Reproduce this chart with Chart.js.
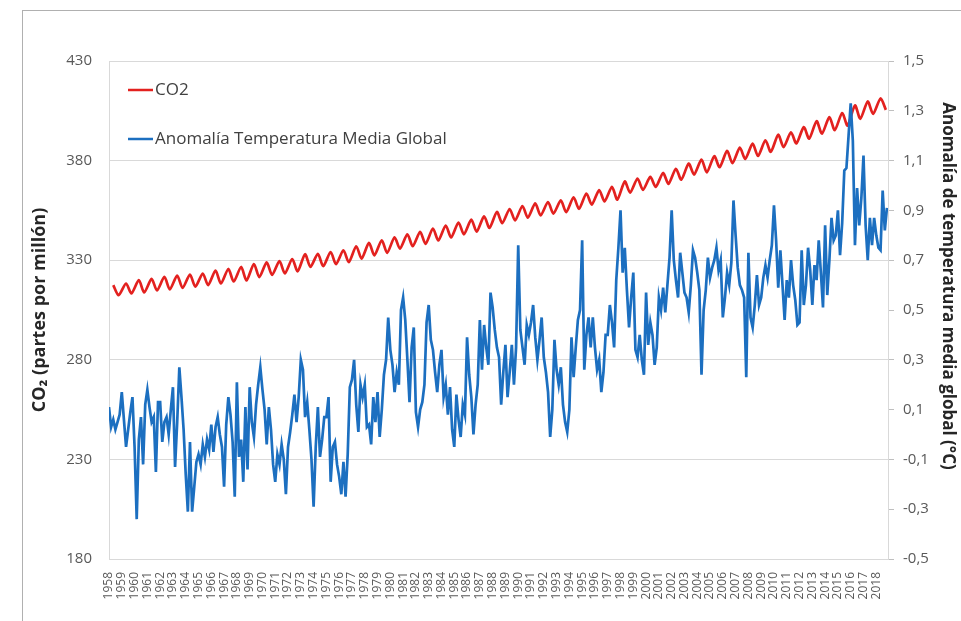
<!DOCTYPE html>
<html lang="es">
<head>
<meta charset="utf-8">
<title>CO2 y anomalía de temperatura</title>
<script src="https://cdn.jsdelivr.net/npm/chart.js@4.4.1/dist/chart.umd.min.js"></script>
<style>
  html, body { margin: 0; padding: 0; background: #fff; }
  #caja { position: relative; width: 961px; height: 621px; overflow: hidden; }
  #marco { position: absolute; left: 22px; top: 10px; right: -2px; bottom: -2px;
           border-left: 1px solid #b0b0b0; border-top: 1px solid #b0b0b0; }
  canvas { position: absolute; left: 0; top: 0; }
</style>
</head>
<body>
<div id="caja">
  <div id="marco"></div>
  <canvas id="grafico" width="961" height="621"></canvas>
</div>
<script>
// Años del eje X (una etiqueta por año)
const anios = Array.from({ length: 61 }, (_, i) => 1958 + i);

// Marcas de los ejes
const ticksCO2 = [180, 230, 280, 330, 380, 430];
const ticksAnomalia = [-0.5, -0.3, -0.1, 0.1, 0.3, 0.5, 0.7, 0.9, 1.1, 1.3, 1.5];

// CO2 (ppm): máximo de mayo y mínimo de octubre de cada año
const co2Max = [
  317.5, 318.3, 320.0, 320.6, 321.6, 322.3, 322.8, 323.3, 324.8, 325.6,
  326.6, 328.1, 328.9, 329.5, 330.6, 333.0, 333.2, 334.1, 335.0, 337.0,
  338.7, 340.0, 341.5, 343.0, 344.2, 345.9, 347.4, 348.9, 350.4, 352.0,
  354.2, 355.7, 357.2, 358.5, 359.2, 360.0, 361.6, 363.5, 365.2, 366.8,
  369.5, 371.0, 371.8, 373.8, 375.9, 378.5, 380.5, 382.2, 384.9, 386.5,
  388.5, 390.2, 393.0, 394.2, 396.8, 399.8, 401.8, 403.9, 407.7, 409.7,
  411.2
];
const co2Min = [
  312.4, 313.3, 313.8, 314.8, 315.4, 316.1, 316.7, 317.5, 318.3, 319.3,
  319.8, 321.5, 322.6, 323.4, 324.4, 326.6, 327.0, 328.0, 329.0, 330.8,
  332.4, 333.7, 335.8, 337.0, 338.2, 339.9, 341.4, 343.0, 344.3, 346.2,
  348.6, 350.0, 351.3, 352.5, 353.4, 354.1, 355.8, 357.9, 359.5, 360.4,
  363.9, 365.3, 366.8, 368.3, 370.4, 373.0, 374.1, 376.7, 378.7, 380.8,
  382.3, 384.4, 386.8, 388.6, 391.0, 393.5, 395.3, 397.6, 401.0, 403.4,
  405.5
];

// Anomalía de temperatura (°C), seis valores por año (cada dos meses)
const anomalia = [
  0.11, 0.03, 0.06, 0.02, 0.05, 0.08,     // 1958
  0.17, 0.06, -0.05, 0.02, 0.09, 0.15,    // 1959
  -0.05, -0.34, -0.02, 0.07, -0.12, 0.12, // 1960
  0.18, 0.11, 0.05, 0.07, -0.15, 0.13,
  0.13, -0.03, 0.05, 0.07, 0.00, 0.10,
  0.19, -0.13, 0.05, 0.27, 0.15, 0.02,
  -0.16, -0.31, -0.03, -0.31, -0.21, -0.11,
  -0.08, -0.12, -0.04, -0.09, -0.02, -0.06, // 1965
  0.04, -0.07, 0.03, 0.07, 0.00, -0.05,
  -0.21, 0.04, 0.15, 0.08, -0.03, -0.25,
  0.21, -0.09, -0.02, -0.19, 0.11, -0.14,
  0.19, 0.05, -0.01, 0.12, 0.20, 0.27,
  0.18, 0.10, -0.04, 0.11, 0.02, -0.12,     // 1970
  -0.19, -0.08, -0.12, -0.04, -0.10, -0.24,
  -0.05, 0.01, 0.08, 0.16, 0.05, 0.15,
  0.30, 0.26, 0.07, 0.13, 0.02, -0.10,
  -0.29, -0.05, 0.11, -0.09, -0.02, 0.07,
  0.07, 0.15, -0.19, -0.05, -0.03, -0.12,   // 1975
  -0.17, -0.24, -0.11, -0.25, -0.08, 0.19,
  0.22, 0.30, 0.12, 0.01, 0.20, 0.15,
  0.20, 0.03, 0.04, -0.04, 0.15, 0.05,
  0.17, -0.01, 0.10, 0.24, 0.30, 0.47,
  0.34, 0.28, 0.17, 0.25, 0.20, 0.50,       // 1980
  0.55, 0.46, 0.30, 0.13, 0.35, 0.43,
  0.09, 0.03, 0.10, 0.13, 0.20, 0.45,
  0.52, 0.38, 0.34, 0.25, 0.17, 0.28,
  0.34, 0.15, 0.20, 0.08, 0.19, 0.02,
  -0.05, 0.16, 0.06, -0.01, 0.12, 0.08,     // 1985
  0.39, 0.24, 0.15, 0.00, 0.12, 0.20,
  0.46, 0.26, 0.44, 0.35, 0.28, 0.57,
  0.51, 0.42, 0.35, 0.31, 0.12, 0.25,
  0.36, 0.15, 0.25, 0.36, 0.20, 0.35,
  0.76, 0.42, 0.35, 0.28, 0.44, 0.40,       // 1990
  0.45, 0.52, 0.39, 0.30, 0.38, 0.47,
  0.31, 0.25, 0.17, -0.01, 0.10, 0.38,
  0.26, 0.20, 0.27, 0.12, 0.05, 0.01,
  0.10, 0.39, 0.23, 0.35, 0.46, 0.50,
  0.78, 0.26, 0.40, 0.47, 0.35, 0.47,       // 1995
  0.35, 0.26, 0.30, 0.17, 0.25, 0.40,
  0.40, 0.52, 0.45, 0.35, 0.62, 0.75,
  0.90, 0.65, 0.75, 0.58, 0.43, 0.55,
  0.65, 0.34, 0.31, 0.40, 0.30, 0.24,
  0.57, 0.36, 0.45, 0.40, 0.28, 0.35,       // 2000
  0.55, 0.50, 0.59, 0.49, 0.60, 0.71,
  0.90, 0.70, 0.62, 0.55, 0.73, 0.65,
  0.57, 0.55, 0.49, 0.60, 0.74, 0.71,
  0.65, 0.58, 0.24, 0.50, 0.58, 0.71,
  0.63, 0.67, 0.70, 0.75, 0.66, 0.70,       // 2005
  0.47, 0.55, 0.65, 0.60, 0.69, 0.94,
  0.80, 0.67, 0.60, 0.58, 0.55, 0.23,
  0.73, 0.47, 0.43, 0.52, 0.64, 0.52,
  0.55, 0.63, 0.68, 0.63, 0.70, 0.76,
  0.92, 0.78, 0.59, 0.74, 0.60, 0.46,       // 2010
  0.62, 0.55, 0.70, 0.60, 0.54, 0.44,
  0.45, 0.74, 0.52, 0.60, 0.75, 0.66,
  0.52, 0.68, 0.62, 0.78, 0.65, 0.51,
  0.84, 0.56, 0.70, 0.87, 0.78, 0.80,
  0.90, 0.72, 0.85, 1.06, 1.07, 1.20,       // 2015
  1.33, 1.18, 0.76, 0.99, 0.84, 0.95,
  1.12, 0.84, 0.70, 0.87, 0.76, 0.87,
  0.80, 0.75, 0.74, 0.98, 0.82, 0.91        // 2018
];

const rojo = "#e3211f";
const azul = "#1c6fc0";

// puntos de CO2: pico en mayo, valle en octubre
const puntosCO2 = [];
anios.forEach((a, i) => {
  puntosCO2.push({ x: a + 4 / 12, y: co2Max[i] });
  puntosCO2.push({ x: a + 9 / 12, y: co2Min[i] });
});
const puntosTemp = anomalia.map((v, i) => ({ x: anios[0] + i / 6, y: v }));

const fijarTicks = (lista) => (scale) => {
  scale.ticks = lista.map((v) => ({ value: v }));
};

// leyenda dentro del gráfico y título del eje derecho
const extras = {
  id: "extras",
  afterDraw(chart) {
    const { ctx, chartArea } = chart;
    const items = [
      { texto: "CO2", color: rojo, dy: 29 },
      { texto: "Anomalía Temperatura Media Global", color: azul, dy: 78 },
    ];
    ctx.save();
    ctx.font = "17px 'Open Sans'";
    ctx.textBaseline = "middle";
    items.forEach((it) => {
      const y = chartArea.top + it.dy;
      const x = chartArea.left + 19;
      ctx.strokeStyle = it.color;
      ctx.lineWidth = 2.5;
      ctx.beginPath();
      ctx.moveTo(x, y);
      ctx.lineTo(x + 25, y);
      ctx.stroke();
      ctx.fillStyle = "#404040";
      ctx.fillText(it.texto, x + 27, y);
    });

    ctx.translate(948, 286);
    ctx.rotate(Math.PI / 2);
    ctx.textAlign = "center";
    ctx.font = "bold 17px 'Open Sans'";
    ctx.fillStyle = "#262626";
    ctx.fillText("Anomalía de temperatura media global (°C)", 0, 0);
    ctx.restore();
  },
};

new Chart(document.getElementById("grafico"), {
  type: "line",
  data: {
    datasets: [
      {
        label: "Anomalía Temperatura Media Global",
        data: puntosTemp,
        yAxisID: "y2",
        borderColor: azul,
        borderWidth: 2.7,
        pointRadius: 0,
        tension: 0,
        order: 0,
      },
      {
        label: "CO2",
        data: puntosCO2,
        yAxisID: "y",
        borderColor: rojo,
        borderWidth: 2.7,
        pointRadius: 0,
        tension: 0.25,
        order: 1,
      },
    ],
  },
  options: {
    responsive: false,
    animation: false,
    devicePixelRatio: 1,
    layout: { padding: { top: 61, left: 0, right: 0, bottom: 0 } },
    plugins: { legend: { display: false }, tooltip: { enabled: false } },
    scales: {
      x: {
        type: "linear",
        min: 1958,
        max: 2018 + 11 / 12,
        afterBuildTicks: fijarTicks(anios),
        afterFit: (s) => { s.height = 62; },
        grid: { display: false },
        border: { display: false },
        ticks: {
          autoSkip: false,
          maxRotation: 90,
          minRotation: 90,
          padding: 5,
          color: "#595959",
          font: { family: "Open Sans", size: 12 },
          callback: (v) => String(v),
        },
      },
      y: {
        position: "left",
        min: 180,
        max: 430,
        afterBuildTicks: fijarTicks(ticksCO2),
        afterFit: (s) => { s.width = 109; },
        grid: { color: "#d9d9d9", lineWidth: 1, drawTicks: false },
        border: { display: true, color: "#d9d9d9" },
        ticks: {
          padding: 17,
          color: "#595959",
          font: { family: "Open Sans", size: 15 },
        },
        title: {
          display: true,
          text: "CO₂ (partes por millón)",
          color: "#262626",
          font: { family: "Open Sans", size: 18, weight: "bold" },
          padding: { top: 29, bottom: 0 },
        },
      },
      y2: {
        position: "right",
        min: -0.5,
        max: 1.5,
        afterBuildTicks: fijarTicks(ticksAnomalia),
        afterFit: (s) => { s.width = 73; },
        grid: { drawOnChartArea: false, color: "#bfbfbf", tickLength: 6 },
        border: { display: true, color: "#d9d9d9" },
        ticks: {
          padding: 9,
          color: "#595959",
          font: { family: "Open Sans", size: 15 },
          callback: (v) => v.toFixed(1).replace(".", ","),
        },
      },
    },
  },
  plugins: [extras],
});
</script>
</body>
</html>
